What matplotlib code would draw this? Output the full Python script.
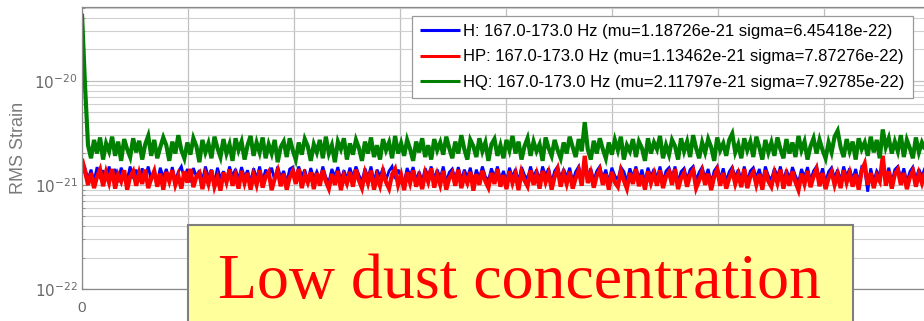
import numpy as np
import matplotlib
matplotlib.use("Agg")
import matplotlib.pyplot as plt
from matplotlib.patches import Rectangle
from matplotlib.ticker import LogLocator, NullFormatter

# ---- data (values in units of 1e-21 strain) ----
scale = 1e-21
step = 14.2  # sample spacing on the time axis

h_vals = [
    1.3, 1.45, 1.12, 1.4, 1.08, 1.48, 1.2, 1.38, 1.1, 1.5,
    1.18, 1.42, 1.06, 1.46, 1.25, 1.12, 1.5, 1.15, 1.4, 1.08,
    1.44, 1.2, 1.5, 1.1, 1.36, 1.05, 1.46, 1.18, 1.42, 1.12,
    1.48, 1.08, 1.34, 1.5, 1.14, 1.42, 1.06, 1.45, 1.2, 1.38,
    1.1, 1.5, 1.18, 1.4, 1.04, 1.46, 1.15, 1.35, 1.08, 1.5,
    1.2, 1.42, 1.12, 1.48, 1.18, 1.38, 1.05, 1.44, 1.14, 1.5,
    1.08, 1.4, 1.22, 1.46, 1.1, 1.5, 1.18, 1.36, 1.06, 1.42,
    1.48, 1.14, 1.5, 1.2, 1.4, 1.08, 1.45, 1.16, 1.34, 1.12,
    1.5, 1.18, 1.06, 1.42, 1.2, 1.48, 1.1, 1.38, 1.14, 1.46,
    1.18, 1.5, 1.24, 1.08, 1.44, 1.16, 1.5, 1.06, 1.4, 1.2,
    1.46, 1.12, 1.36, 1.5, 1.14, 1.4, 1.18, 1.05, 1.45, 1.22,
    1.48, 1.1, 1.34, 1.08, 1.44, 1.2, 1.5, 1.13, 1.4, 1.16,
    1.5, 1.06, 1.32, 1.42, 1.14, 1.48, 1.1, 1.4, 1.18, 1.46,
    1.05, 1.4, 1.16, 1.5, 1.2, 1.1, 1.44, 1.18, 1.5, 1.12,
    1.36, 1.08, 1.46, 1.18, 1.42, 1.06, 1.48, 1.24, 1.14, 1.5,
    1.18, 1.4, 1.1, 1.5, 1.22, 1.44, 1.05, 1.36, 1.5, 1.14,
    1.42, 1.18, 1.46, 1.08, 1.34, 1.5, 1.14, 1.48, 1.2, 1.44,
    1.1, 1.36, 1.5, 1.16, 1.4, 1.05, 1.46, 1.22, 1.12, 1.48,
    1.34, 1.08, 1.44, 1.18, 1.5, 1.13, 1.4, 1.06, 1.46, 1.2,
    1.42, 1.14, 1.5, 1.08, 1.36, 1.46, 1.18, 1.5, 1.06, 1.34,
    1.44, 1.12, 1.4, 1.5, 1.1, 1.32, 1.48, 1.16, 1.42, 1.05,
    1.36, 1.5, 1.14, 1.44, 1.08, 1.34, 1.48, 1.18, 1.4, 1.12,
    1.5, 1.08, 1.36, 1.46, 1.16, 1.42, 1.06, 1.5, 1.22, 1.12,
    1.44, 1.2, 1.5, 1.08, 1.4, 1.14, 1.48, 1.22, 1.05, 1.42,
    1.18, 1.48, 1.1, 1.36, 1.5, 1.14, 1.44, 1.06, 1.34, 1.46,
    1.16, 1.4, 1.08, 1.5, 1.2, 1.44, 1.12, 1.42, 1.05, 1.48,
    1.4, 0.86, 1.44, 1.08, 1.36, 1.22, 1.5, 1.14, 1.46, 1.06,
    1.4, 1.5, 1.16, 1.44, 1.06, 1.34, 1.48, 1.12, 1.42, 1.2,
    1.46,
]

hp_vals = [
    1.78, 1.35, 1.0, 1.3, 0.93, 1.2, 1.4, 0.97, 1.32, 1.05,
    1.42, 0.92, 1.25, 1.08, 1.38, 0.9, 1.2, 1.35, 0.98, 1.3,
    1.02, 1.4, 0.93, 1.15, 1.36, 0.96, 1.28, 0.9, 1.33, 1.08,
    1.38, 1.0, 1.22, 0.92, 1.35, 1.05, 1.42, 0.95, 1.2, 1.3,
    0.91, 1.26, 1.02, 1.38, 0.96, 1.18, 0.88, 1.32, 1.06, 1.4,
    0.98, 1.24, 0.92, 1.36, 1.04, 1.3, 0.9, 1.25, 1.0, 1.38,
    0.94, 1.2, 1.33, 0.89, 1.15, 1.37, 0.97, 1.28, 0.9, 1.18,
    1.35, 1.02, 1.42, 0.93, 1.24, 1.05, 1.32, 0.91, 1.3, 0.98,
    1.38, 1.08, 0.92, 1.27, 1.0, 1.36, 0.89, 1.22, 1.03, 1.33,
    0.96, 1.4, 1.1, 0.93, 1.3, 1.04, 1.37, 0.9, 1.2, 0.98,
    1.34, 1.06, 0.92, 1.26, 1.42, 1.0, 1.24, 0.89, 1.32, 1.04,
    1.38, 0.96, 1.2, 0.91, 1.3, 1.07, 1.44, 0.94, 1.25, 1.0,
    1.36, 0.9, 1.16, 1.3, 0.98, 1.4, 0.93, 1.22, 1.04, 1.33,
    0.88, 1.27, 1.0, 1.37, 1.08, 0.94, 1.3, 1.02, 1.42, 0.96,
    1.24, 0.91, 1.35, 1.04, 1.28, 0.89, 1.33, 1.1, 0.97, 1.38,
    1.0, 1.26, 0.92, 1.36, 1.06, 1.3, 0.9, 1.2, 1.42, 0.96,
    1.28, 1.02, 1.34, 0.92, 1.16, 1.38, 0.98, 1.9, 1.04, 1.3,
    0.94, 1.22, 1.4, 1.0, 1.27, 0.9, 1.33, 1.06, 0.96, 1.36,
    1.1, 0.92, 1.3, 1.02, 1.42, 0.97, 1.24, 0.9, 1.35, 1.04,
    1.28, 0.98, 1.38, 0.93, 1.2, 1.33, 1.0, 1.42, 0.91, 1.16,
    1.3, 0.96, 1.24, 1.38, 0.93, 1.1, 1.35, 1.0, 1.28, 0.89,
    1.2, 1.4, 0.98, 1.3, 0.92, 1.16, 1.36, 1.02, 1.26, 0.95,
    1.42, 0.93, 1.2, 1.33, 1.0, 1.27, 0.9, 1.38, 1.08, 0.96,
    1.3, 1.04, 1.4, 0.92, 1.24, 0.98, 1.35, 1.06, 0.89, 1.28,
    1.02, 1.36, 0.95, 1.2, 1.42, 0.97, 1.3, 0.91, 1.16, 1.33,
    1.0, 1.26, 0.93, 1.38, 1.05, 1.3, 0.96, 1.27, 0.9, 1.36,
    1.6, 1.0, 1.3, 0.93, 1.22, 1.08, 1.9, 0.98, 1.35, 0.92,
    1.26, 1.4, 1.0, 1.3, 0.91, 1.18, 1.36, 0.96, 1.28, 1.04,
    1.32,
]

hq_vals = [
    44.0, 9.0, 2.4, 1.8, 2.7, 2.0, 2.85, 1.75, 2.5, 2.1,
    2.9, 1.9, 2.6, 1.7, 2.75, 2.2, 1.85, 2.8, 2.05, 2.65,
    1.75, 2.45, 2.95, 1.9, 2.7, 1.8, 2.3, 2.85, 2.4, 1.7,
    2.6, 2.0, 3.0, 2.15, 1.8, 2.55, 1.95, 2.8, 2.35, 1.65,
    2.7, 2.05, 2.5, 1.8, 2.9, 2.25, 1.85, 2.75, 2.0, 2.45,
    1.7, 2.8, 2.15, 2.6, 1.75, 2.4, 2.95, 1.9, 2.55, 2.05,
    2.85, 1.8, 2.45, 2.0, 2.7, 1.65, 2.3, 2.6, 1.85, 2.8,
    2.15, 1.75, 2.55, 1.95, 2.75, 2.35, 1.7, 2.45, 2.05, 2.7,
    1.8, 2.9, 2.0, 2.4, 1.65, 2.6, 2.2, 2.8, 1.75, 2.5,
    1.95, 2.7, 2.25, 1.7, 2.6, 2.0, 2.85, 1.85, 2.4, 1.75,
    2.75, 2.15, 2.55, 1.8, 2.95, 2.0, 2.5, 1.9, 2.7, 2.2,
    1.7, 2.6, 2.05, 2.8, 1.85, 2.4, 1.75, 2.75, 2.15, 2.55,
    1.95, 2.9, 2.25, 1.8, 2.6, 2.0, 3.0, 2.2, 1.75, 2.7,
    2.35, 1.85, 2.8, 2.1, 2.55, 1.7, 2.45, 2.75, 1.9, 2.4,
    1.8, 2.7, 2.15, 2.95, 2.0, 2.6, 1.75, 2.35, 2.8, 1.9,
    2.6, 2.1, 2.45, 1.7, 2.85, 2.25, 1.9, 2.7, 2.15, 1.8,
    2.55, 2.0, 2.9, 2.3, 1.85, 2.75, 2.1, 4.0, 2.2, 1.75,
    2.65, 2.0, 2.8, 2.2, 1.8, 2.55, 1.95, 2.7, 2.15, 2.9,
    1.75, 2.4, 2.1, 2.75, 1.85, 2.6, 2.25, 1.7, 2.8, 2.0,
    2.55, 2.2, 2.95, 1.8, 2.4, 1.95, 2.7, 2.35, 1.75, 2.8,
    2.1, 2.6, 1.85, 3.0, 2.25, 1.8, 2.55, 2.05, 2.75, 2.3,
    1.7, 2.85, 2.15, 2.5, 1.9, 2.7, 3.1, 2.05, 2.45, 1.8,
    2.8, 2.15, 2.6, 1.85, 2.9, 2.3, 1.75, 2.7, 2.05, 2.55,
    1.9, 2.85, 2.2, 1.8, 2.75, 2.0, 2.55, 1.85, 2.95, 2.15,
    2.6, 1.75, 2.35, 2.8, 2.0, 2.7, 2.15, 1.8, 2.55, 2.05,
    2.9, 3.3, 2.3, 1.85, 2.75, 2.1, 2.6, 1.75, 2.8, 2.2,
    2.55, 1.9, 2.9, 2.05, 2.7, 1.8, 3.4, 2.3, 2.8, 2.0,
    2.6, 2.1, 3.0, 1.85, 2.7, 2.25, 1.8, 2.85, 2.05, 2.55,
    2.2,
]

labels = [
    "H: 167.0-173.0 Hz (mu=1.18726e-21 sigma=6.45418e-22)",
    "HP: 167.0-173.0 Hz (mu=1.13462e-21 sigma=7.87276e-22)",
    "HQ: 167.0-173.0 Hz (mu=2.11797e-21 sigma=7.92785e-22)",
]
colors = ["#0000ff", "#ff0000", "#008000"]
line_widths = [2.0, 3.0, 3.0]
xtick_vals = [0, 500, 1000, 1500, 2000, 2500, 3000, 3500, 4000]
xtick_labels = ["0", "", "", "", "", "", "", "", ""]
ytick_vals = [1e-22, 1e-21, 1e-20]
ytick_labels = [r"$10^{-22}$", r"$10^{-21}$", r"$10^{-20}$"]
overlay_text = "Low dust concentration"

# ---- figure ----
W, H = 924, 321
fig = plt.figure(figsize=(W / 100, H / 100), dpi=100)
fig.patch.set_facecolor("white")
plt.rcParams["font.family"] = ["Liberation Sans", "DejaVu Sans"]

def fx(px):
    return px / W

def fy(py):
    return 1 - py / H

ax_left, ax_right, ax_top, ax_bot = 82, 952, 7, 289
ax = fig.add_axes([fx(ax_left), fy(ax_bot), (ax_right - ax_left) / W, (ax_bot - ax_top) / H])

series = [h_vals, hp_vals, hq_vals]
n = min(len(s) for s in series)
x = np.arange(n) * step
for vals, c, lab, lw in zip(series, colors, labels, line_widths):
    ax.plot(x, np.array(vals[:n]) * scale, color=c, lw=lw, label=lab,
            solid_joinstyle="miter", solid_capstyle="butt")

ax.set_yscale("log")
ax.set_ylim(1e-22, 5.1e-20)
xmax = (ax_right - ax_left) / 106 * 500
ax.set_xlim(0, xmax)

ax.set_yticks(ytick_vals)
ax.set_yticklabels(ytick_labels)
ax.yaxis.set_minor_locator(LogLocator(base=10, subs=np.arange(2, 10), numticks=20))
ax.yaxis.set_minor_formatter(NullFormatter())
ax.set_xticks(xtick_vals)
ax.set_xticklabels(xtick_labels)

ax.grid(True, which="major", color="#c0c0c0", lw=0.9)
ax.grid(True, which="minor", axis="y", color="#d0d0d0", lw=0.8)
ax.set_axisbelow(True)
for s in ax.spines.values():
    s.set_color("#8a8a8a")
    s.set_linewidth(0.9)
ax.tick_params(which="both", direction="in", colors="#8a8a8a", labelcolor="#6a6a6a", labelsize=11)
ax.tick_params(which="major", length=4)
ax.tick_params(which="minor", length=2)
ax.tick_params(axis="y", pad=3)
ax.tick_params(axis="x", pad=9)
ax.set_ylabel("RMS Strain", color="#7a7a7a", fontsize=13)
ax.yaxis.set_label_coords(-0.0632, 0.5)

leg = ax.legend(loc="upper left", bbox_to_anchor=(fx(412), fy(16)), bbox_transform=fig.transFigure,
                fontsize=12, frameon=True, fancybox=False, framealpha=1, edgecolor="#999999",
                handlelength=2.4, handletextpad=0.2, borderpad=0.48, labelspacing=0.63,
                borderaxespad=0)
leg.get_frame().set_linewidth(0.9)
for line in leg.get_lines():
    line.set_linewidth(2.2)

# ---- yellow overlay box ----
rect = Rectangle((fx(188), -0.05), (853 - 188) / W, (H - 225) / H + 0.05, transform=fig.transFigure,
                 facecolor="#ffff9c", edgecolor="#7f7f7f", lw=1.5, zorder=10)
fig.patches.append(rect)
fig.text(fx(218), fy(298), overlay_text, color="#ff0000", fontsize=46,
         family=["Liberation Serif", "DejaVu Serif"], ha="left", va="baseline", zorder=11)

fig.savefig("out.png", dpi=100)
